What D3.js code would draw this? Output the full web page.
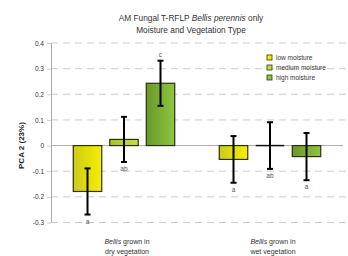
<!DOCTYPE html>
<html>
<head>
<meta charset="utf-8">
<script src="https://cdn.jsdelivr.net/npm/d3@7"></script>
<style>
body { margin: 0; background: #fff; }
text { font-family: "Liberation Sans", Arial, sans-serif; }
</style>
</head>
<body>
<script>
// chart size
var W = 348, H = 256;

// data
var groups = ["dry", "wet"];
var groupLabels = [["Bellis", " grown in", "dry vegetation"], ["Bellis", " grown in", "wet vegetation"]];
var series = ["low moisture", "medium moisture", "high moisture"];
var dryValues = [-0.179, 0.024, 0.243];
var wetValues = [-0.054, 0.0, -0.043];
var dryErrors = [0.09, 0.088, 0.088];
var wetErrors = [0.091, 0.091, 0.092];
var dryLetters = ["a", "ab", "c"];
var wetLetters = ["a", "ab", "a"];
var yTicks = [0.4, 0.3, 0.2, 0.1, 0, -0.1, -0.2, -0.3];
var colors = [["#cccc1a", "#f7ee00"], ["#a6c42e", "#c6de44"], ["#68982a", "#8ec63e"]];

var rows = [];
groups.forEach(function(g, gi) {
	var vals = gi == 0 ? dryValues : wetValues;
	var errs = gi == 0 ? dryErrors : wetErrors;
	var lets = gi == 0 ? dryLetters : wetLetters;
	series.forEach(function(s, si) {
		rows.push({group: g, series: si, value: vals[si], err: errs[si], letter: lets[si]});
	});
});

var svg = d3.select("body").append("svg")
	.attr("width", W)
	.attr("height", H);

var defs = svg.append("defs");
colors.forEach(function(c, i) {
	var lg = defs.append("linearGradient").attr("id", "g" + i)
		.attr("x1", "0%").attr("x2", "100%").attr("y1", "0%").attr("y2", "0%");
	lg.append("stop").attr("offset", "0%").attr("stop-color", c[0]);
	lg.append("stop").attr("offset", "100%").attr("stop-color", c[1]);
});

var left = 51, right = 343;
var y = d3.scaleLinear().domain([-0.3, 0.4]).range([222.5, 43]);
var x0 = d3.scaleBand().domain(groups).range([left, right]);
var x1 = d3.scaleBand().domain([0, 1, 2]).range([0, x0.bandwidth()]).paddingInner(0.22).paddingOuter(0.61);

//title
var title = svg.append("text").attr("x", 191).attr("y", 21)
	.attr("text-anchor", "middle").attr("font-size", "8.3px").attr("fill", "#333");
title.append("tspan").text("AM Fungal T-RFLP ");
title.append("tspan").attr("font-style", "italic").text("Bellis perennis");
title.append("tspan").text(" only");
svg.append("text").attr("x", 191).attr("y", 33)
	.attr("text-anchor", "middle").attr("font-size", "8.3px").attr("fill", "#333")
	.text("Moisture and Vegetation Type");

//grid lines
svg.selectAll(".grid")
	.data(yTicks.filter(function(d){return d != 0}))
	.enter().append("line")
	.attr("x1", left).attr("x2", 346)
	.attr("y1", function(d){return y(d)}).attr("y2", function(d){return y(d)})
	.style("stroke", "#ccc")
	.style("stroke-width", 1)
	.style("stroke-dasharray", "7,5");

//y axis
var yAxis = svg.append("g")
	.attr("transform", "translate(" + left + ",0)")
	.call(d3.axisLeft(y).tickValues(yTicks).tickSize(4).tickFormat(function(d){return d == 0 ? "0" : d3.format(".1f")(d).replace("\u2212", "-")}));
yAxis.select(".domain").attr("stroke", "#aaa").attr("d", "M0.5," + y(0.4) + "V" + y(-0.3));
yAxis.selectAll(".tick line").attr("stroke", "#ccc");
yAxis.selectAll(".tick text").attr("font-size", "6.5px").attr("fill", "#333")
	.attr("font-family", "Liberation Sans, Arial, sans-serif");

svg.append("text")
	.attr("transform", "translate(24," + y(0) + ") rotate(-90)")
	.attr("text-anchor", "middle")
	.attr("font-size", "8px").attr("font-weight", "bold").attr("fill", "#222")
	.text("PCA 2 (23%)");

//zero line
svg.append("line")
	.attr("x1", left).attr("x2", right)
	.attr("y1", y(0)).attr("y2", y(0))
	.style("stroke", "#aaa");

//bars
var bar = svg.selectAll(".bar").data(rows).enter().append("g")
	.attr("transform", function(d){return "translate(" + (x0(d.group) + x1(d.series)) + ",0)"});

bar.append("rect")
	.attr("y", function(d){return y(Math.max(0, d.value))})
	.attr("width", x1.bandwidth())
	.attr("height", function(d){return Math.abs(y(d.value) - y(0))})
	.style("fill", function(d){return "url(#g" + d.series + ")"})
	.style("stroke", "#2e2e14")
	.style("stroke-width", 1.2);

//medium wet bar is at zero, drawn as a black line
bar.filter(function(d){return d.value == 0}).append("line")
	.attr("x1", 0).attr("x2", x1.bandwidth())
	.attr("y1", y(0)).attr("y2", y(0))
	.style("stroke", "#111").style("stroke-width", 1.5);

//error bars
var cx = x1.bandwidth() / 2;
bar.append("line")
	.attr("x1", cx).attr("x2", cx)
	.attr("y1", function(d){return y(d.value + d.err)})
	.attr("y2", function(d){return y(d.value - d.err)})
	.style("stroke", "#000").style("stroke-width", 2);
[1, -1].forEach(function(s) {
	bar.append("line")
		.attr("x1", cx - 3).attr("x2", cx + 3)
		.attr("y1", function(d){return y(d.value + s * d.err)})
		.attr("y2", function(d){return y(d.value + s * d.err)})
		.style("stroke", "#000").style("stroke-width", 2);
});

//letters
bar.append("text")
	.attr("x", cx)
	.attr("y", function(d){return d.value > 0.1 ? y(d.value + d.err) - 4 : y(d.value - d.err) + 9})
	.attr("text-anchor", "middle")
	.attr("font-size", "6.5px").attr("fill", "#555")
	.text(function(d){return d.letter});

//group labels
groups.forEach(function(g, gi) {
	var t = svg.append("text").attr("x", x0(g) + x0.bandwidth() / 2 + 3).attr("y", 244)
		.attr("text-anchor", "middle").attr("font-size", "7px").attr("fill", "#333");
	t.append("tspan").attr("font-style", "italic").text(groupLabels[gi][0]);
	t.append("tspan").text(groupLabels[gi][1]);
	svg.append("text").attr("x", x0(g) + x0.bandwidth() / 2 + 3).attr("y", 254)
		.attr("text-anchor", "middle").attr("font-size", "7px").attr("fill", "#333")
		.text(groupLabels[gi][2]);
});

//legend
var legend = svg.selectAll(".legend").data(series).enter().append("g")
	.attr("transform", function(d, i){return "translate(267," + (55 + i * 10) + ")"});
legend.append("rect")
	.attr("width", 5).attr("height", 5)
	.style("fill", function(d, i){return colors[i][1]})
	.style("stroke", "#333318").style("stroke-width", 0.8);
legend.append("text")
	.attr("x", 9).attr("y", 5)
	.attr("font-size", "6.5px").attr("fill", "#333")
	.text(function(d){return d});
</script>
</body>
</html>
